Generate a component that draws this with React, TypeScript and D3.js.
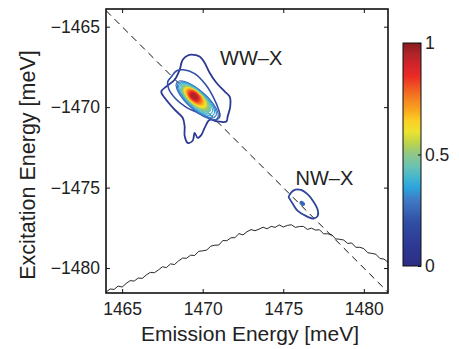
import React, { useRef, useEffect } from "react";
import * as d3 from "d3";

// axis ticks
const xTicks = [1465, 1470, 1475, 1480];
const yTicks = [-1480, -1475, -1470, -1465];
const cbarTicks = [0, 0.5, 1];

// PL spectrum (emission axis sampled every 0.25 meV from 1464)
const spectrumStart = 1464;
const spectrumStep = 0.25;
const spectrumValues = [
  -1481.50, -1481.30, -1481.33, -1481.12, -1481.18, -1480.96, -1480.78, -1480.81, -1480.62, -1480.64,
  -1480.43, -1480.27, -1480.29, -1480.12, -1479.92, -1479.97, -1479.74, -1479.78, -1479.56, -1479.38,
  -1479.39, -1479.20, -1479.22, -1478.96, -1478.93, -1478.88, -1478.64, -1478.58, -1478.57, -1478.29,
  -1478.30, -1478.12, -1478.11, -1477.86, -1477.94, -1477.74, -1477.61, -1477.68, -1477.58, -1477.46,
  -1477.56, -1477.41, -1477.47, -1477.32, -1477.45, -1477.35, -1477.31, -1477.47, -1477.42, -1477.41,
  -1477.60, -1477.52, -1477.64, -1477.62, -1477.87, -1477.87, -1477.92, -1478.19, -1478.21, -1478.26,
  -1478.47, -1478.44, -1478.71, -1478.71, -1478.79, -1479.05, -1479.09, -1479.14, -1479.41, -1479.44,
  -1479.64,
];

// outer contours [emission, excitation]
const wwOuter: [number, number][] = [
  [1469.30, -1466.74], [1469.81, -1466.85], [1470.12, -1467.24], [1470.43, -1467.86],
  [1470.85, -1468.48], [1471.37, -1469.03], [1471.68, -1469.36], [1471.71, -1469.96],
  [1471.55, -1470.58], [1471.47, -1470.89], [1470.93, -1470.89], [1470.43, -1470.79],
  [1470.12, -1471.29], [1469.92, -1471.72], [1469.69, -1471.91], [1469.50, -1471.60],
  [1469.38, -1472.09], [1469.07, -1472.22], [1468.88, -1471.78], [1468.88, -1471.20],
  [1468.76, -1470.66], [1468.26, -1470.16], [1467.64, -1469.42], [1467.43, -1469.03],
  [1467.75, -1468.71], [1468.26, -1468.30], [1468.57, -1467.68], [1468.76, -1467.05],
  [1469.07, -1466.79],
];
const wwSecond: [number, number][] = [
  [1468.01, -1468.17], [1468.39, -1467.74], [1468.82, -1467.68], [1469.50, -1467.92],
  [1470.19, -1468.61], [1470.68, -1469.42], [1470.99, -1470.16], [1471.06, -1470.60],
  [1470.81, -1470.79], [1470.25, -1470.60], [1469.57, -1470.29], [1468.94, -1469.98],
  [1468.32, -1469.48], [1467.89, -1468.86], [1467.83, -1468.42],
];
const nwOuter: [number, number][] = [
  [1475.34, -1475.58], [1475.65, -1475.17], [1476.09, -1475.14], [1476.52, -1475.42],
  [1476.89, -1475.89], [1477.14, -1476.39], [1477.14, -1476.76], [1476.89, -1476.92],
  [1476.40, -1476.76], [1475.90, -1476.45], [1475.59, -1476.01], [1475.40, -1475.70],
];
const nwDot = { e: 1476.18, x: -1475.98, a: 0.16, b: 0.1 };

// inner WW-X contour rings (ellipses along the diagonal)
const coreLevels = [0.25, 0.3, 0.35, 0.4, 0.45, 0.5, 0.55, 0.6, 0.65, 0.7, 0.75, 0.8, 0.85, 0.9, 0.95];
const coreMajor = [1.68, 1.55, 1.43, 1.30, 1.18, 1.06, 0.93, 0.84, 0.75, 0.65, 0.56, 0.47, 0.37, 0.28, 0.19];
const coreMinor = [0.59, 0.55, 0.51, 0.47, 0.43, 0.40, 0.37, 0.35, 0.32, 0.30, 0.27, 0.24, 0.20, 0.16, 0.11];
const coreCenterE = [1469.66, 1469.64, 1469.62, 1469.60, 1469.58, 1469.56, 1469.54, 1469.53, 1469.52, 1469.51, 1469.50, 1469.49, 1469.48, 1469.47, 1469.47];
const coreCenterX = [-1469.57, -1469.54, -1469.51, -1469.48, -1469.46, -1469.44, -1469.42, -1469.40, -1469.38, -1469.36, -1469.35, -1469.34, -1469.33, -1469.32, -1469.32];

// colormap (printed jet)
const cmapStops = [0, 0.1, 0.2, 0.3, 0.36, 0.44, 0.5, 0.56, 0.62, 0.7, 0.78, 0.86, 0.93, 1];
const cmapColors = ["#2c2e83", "#2d3a94", "#3050a5", "#3f7cc4", "#28ace2", "#66c2b8", "#8fc68a", "#c4d640", "#fde92a", "#f9a61e", "#f26a22", "#ea2227", "#c1272d", "#861d1f"];

const labels = [
  { text: "WW–X", e: 1473.01, x: -1467.36 },
  { text: "NW–X", e: 1477.55, x: -1474.83 },
];

const FONT = "'Liberation Sans', Arial, Helvetica, sans-serif";

export default function App() {
  const svgRef = useRef<SVGSVGElement | null>(null);

  useEffect(() => {
    if (!svgRef.current) return;
    const svg = d3.select(svgRef.current);
    svg.selectAll("*").remove();

    const x = d3.scaleLinear().domain([1464, 1481.5]).range([106, 388]);
    const y = d3.scaleLinear().domain([-1481.55, -1463.9]).range([293, 9]);
    const color = d3.scaleLinear<string>().domain(cmapStops).range(cmapColors).interpolate(d3.interpolateRgb);
    const pxPerMeV = x(1465) - x(1464);

    const defs = svg.append("defs");
    defs.append("clipPath").attr("id", "plotclip")
      .append("rect").attr("x", 106).attr("y", 9).attr("width", 282).attr("height", 284);

    const plot = svg.append("g").attr("clip-path", "url(#plotclip)");

    // diagonal dashed line
    plot.append("line")
      .attr("x1", x(1464)).attr("y1", y(-1464))
      .attr("x2", x(1481.5)).attr("y2", y(-1481.5))
      .attr("stroke", "#111").attr("stroke-width", 1)
      .attr("stroke-dasharray", "7,5");

    // spectrum
    const line = d3.line<number>()
      .x((_, i) => x(spectrumStart + i * spectrumStep))
      .y(d => y(d));
    plot.append("path").datum(spectrumValues)
      .attr("d", line)
      .attr("fill", "none").attr("stroke", "#111").attr("stroke-width", 0.9);

    // contours
    const closed = d3.line<[number, number]>()
      .x(d => x(d[0])).y(d => y(d[1]))
      .curve(d3.curveCatmullRomClosed.alpha(0.5));
    plot.append("path").datum(wwOuter).attr("d", closed)
      .attr("fill", "none").attr("stroke", color(0.1)).attr("stroke-width", 1.8);
    plot.append("path").datum(wwSecond).attr("d", closed)
      .attr("fill", "none").attr("stroke", color(0.2)).attr("stroke-width", 1.6);
    plot.append("path").datum(nwOuter).attr("d", closed)
      .attr("fill", "none").attr("stroke", color(0.15)).attr("stroke-width", 1.8);
    plot.append("ellipse")
      .attr("cx", x(nwDot.e)).attr("cy", y(nwDot.x))
      .attr("rx", nwDot.a * pxPerMeV).attr("ry", nwDot.b * pxPerMeV)
      .attr("transform", `rotate(40, ${x(nwDot.e)}, ${y(nwDot.x)})`)
      .attr("fill", color(0.25)).attr("stroke", color(0.25)).attr("stroke-width", 1);

    coreLevels.forEach((lv, i) => {
      const cx = x(coreCenterE[i]);
      const cy = y(coreCenterX[i]);
      plot.append("ellipse")
        .attr("cx", cx).attr("cy", cy)
        .attr("rx", coreMajor[i] * pxPerMeV).attr("ry", coreMinor[i] * pxPerMeV)
        .attr("transform", `rotate(42, ${cx}, ${cy})`)
        .attr("fill", lv >= 0.45 ? color(lv) : "none")
        .attr("stroke", color(lv)).attr("stroke-width", 1.2);
    });

    // labels
    svg.append("g").selectAll("text").data(labels).enter().append("text")
      .attr("x", d => x(d.e)).attr("y", d => y(d.x))
      .attr("text-anchor", "middle")
      .attr("font-size", 20).attr("fill", "#222")
      .text(d => d.text);

    // axes (ticks inside, box)
    const tk = 4;
    const gx = svg.append("g").attr("transform", "translate(0,293)")
      .call(d3.axisBottom(x).tickValues(xTicks).tickSizeInner(-tk).tickSizeOuter(0).tickPadding(10).tickFormat(d3.format("d")));
    const gxt = svg.append("g").attr("transform", "translate(0,9)")
      .call(d3.axisTop(x).tickValues(xTicks).tickSizeInner(-tk).tickSizeOuter(0).tickFormat(() => ""));
    const gy = svg.append("g").attr("transform", "translate(106,0)")
      .call(d3.axisLeft(y).tickValues(yTicks).tickSizeInner(-tk).tickSizeOuter(0).tickPadding(6).tickFormat(d3.format("d")));
    const gyr = svg.append("g").attr("transform", "translate(388,0)")
      .call(d3.axisRight(y).tickValues(yTicks).tickSizeInner(-tk).tickSizeOuter(0).tickFormat(() => ""));
    [gx, gxt, gy, gyr].forEach(g => {
      g.select(".domain").remove();
      g.selectAll("line").attr("stroke", "#111");
      g.selectAll("text").attr("font-size", 17.5).attr("font-family", FONT).attr("fill", "#222");
    });
    svg.append("rect").attr("x", 106).attr("y", 9).attr("width", 282).attr("height", 284)
      .attr("fill", "none").attr("stroke", "#111").attr("stroke-width", 1.6);

    // axis titles
    svg.append("text").attr("x", 250).attr("y", 341).attr("text-anchor", "middle")
      .attr("font-size", 21).attr("fill", "#222").text("Emission Energy [meV]");
    svg.append("text").attr("transform", "translate(35,165) rotate(-90)").attr("text-anchor", "middle")
      .attr("font-size", 21.5).attr("fill", "#222").text("Excitation Energy [meV]");

    // colorbar
    const cb = d3.scaleLinear().domain([0, 1]).range([266, 43]);
    const grad = defs.append("linearGradient").attr("id", "cbgrad")
      .attr("x1", 0).attr("y1", 1).attr("x2", 0).attr("y2", 0);
    d3.range(0, 1.0001, 0.05).forEach(t => {
      grad.append("stop").attr("offset", t).attr("stop-color", color(t));
    });
    svg.append("rect").attr("x", 403).attr("y", cb(1)).attr("width", 18).attr("height", cb(0) - cb(1))
      .attr("fill", "url(#cbgrad)").attr("stroke", "#111").attr("stroke-width", 1);
    const gcb = svg.append("g").attr("transform", "translate(421,0)")
      .call(d3.axisRight(cb).tickValues(cbarTicks).tickSizeInner(-3).tickSizeOuter(0).tickPadding(4).tickFormat(d3.format("")));
    gcb.select(".domain").remove();
    gcb.selectAll("line").attr("stroke", "#111");
    gcb.selectAll("text").attr("font-size", 17.5).attr("font-family", FONT).attr("fill", "#222");
  }, []);

  return (
    <svg ref={svgRef} width={459} height={349}
      style={{ position: "absolute", left: 0, top: 0, background: "#fff", fontFamily: FONT }} />
  );
}
